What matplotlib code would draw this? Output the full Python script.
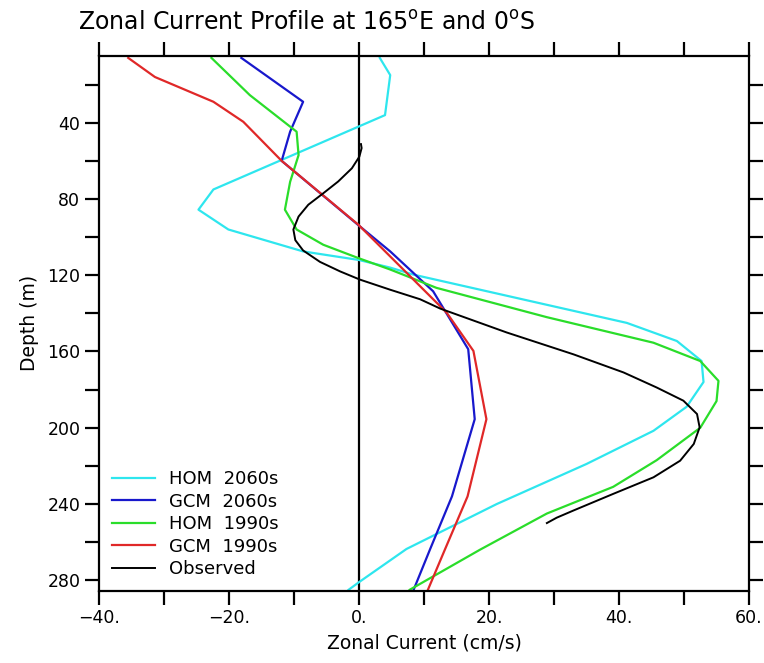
import numpy as np
import matplotlib
matplotlib.use("Agg")
import matplotlib.pyplot as plt
from matplotlib.ticker import MultipleLocator, FuncFormatter

plt.rcParams['font.family'] = ['DejaVu Sans']

# HOM 2060s (cyan)
hom60_u = [3.2, 4.8, 4.0, -22.4, -24.7, -20.1, -8.6, 0.0, 4.8, 8.4, 41.2, 48.9,
           52.7, 53.0, 50.4, 45.3, 35.0, 21.2, 7.3, 0.0, -1.6]
hom60_d = [6, 15, 36, 75, 85.6, 96, 107.5, 112, 116, 119.7, 145, 154.5,
           165, 176, 189, 201.6, 219, 240, 263.6, 281, 285]

# GCM 2060s (blue)
gcm60_u = [-18.1, -8.6, -10.6, -11.9, 0.0, 4.8, 11.4, 16.8, 17.8, 14.3, 10.9, 8.4]
gcm60_d = [6, 29, 44.7, 60, 94, 107.5, 128.4, 158.8, 195.5, 236, 264, 285]

# HOM 1990s (green)
hom90_u = [-22.7, -16.8, -9.6, -9.3, -10.6, -11.4, -9.6, -5.5, -0.1, 4.8, 11.9, 28.9,
           45.3, 52.5, 55.3, 55.0, 52.5, 45.8, 39.1, 28.9, 18.6, 7.8]
hom90_d = [6, 25.5, 44.7, 57, 71, 85.6, 96, 104, 111, 117, 126.6, 142,
           155.4, 165, 175.4, 186, 200, 217, 231, 245, 264, 285]

# GCM 1990s (red)
gcm90_u = [-35.5, -31.4, -22.4, -17.8, -11.9, -0.1, 13.5, 17.6, 19.6, 16.7, 13.2, 10.6]
gcm90_d = [6, 16, 29, 39.5, 60, 93.5, 139.7, 159.7, 195.5, 236, 264, 285]

# Observed (black)
obs_u = [0.3, 0.4, 0.05, -1.1, -3.2, -5.5, -7.8, -9.3, -10.1, -9.8, -8.6, -6.0,
         -2.9, 0.15, 4.8, 9.4, 12.5, 22.7, 33.0, 40.7, 45.8, 49.9, 52.0, 52.4,
         51.5, 49.4, 45.3, 39.1, 33.0, 30.4, 28.9]
obs_d = [51.2, 53.3, 57.8, 63.9, 70.8, 77, 83, 89.2, 96, 101.6, 107, 113,
         118, 122.3, 127.6, 132.6, 137.5, 150, 161.5, 171, 178.9, 185.8, 192.8, 199.8,
         208.5, 217.3, 226, 234.7, 243.4, 247.2, 250]

fig = plt.figure(figsize=(7.64, 6.63), dpi=100)
ax = fig.add_axes([0.1296, 0.109, 0.8508, 0.8065])

ax.axvline(0, color='black', lw=1.6, zorder=1)
ax.plot(hom60_u, hom60_d, color='#2ee6ee', lw=1.6, label='HOM  2060s')
ax.plot(gcm60_u, gcm60_d, color='#1818cc', lw=1.6, label='GCM  2060s')
ax.plot(hom90_u, hom90_d, color='#2add2a', lw=1.6, label='HOM  1990s')
ax.plot(gcm90_u, gcm90_d, color='#e02828', lw=1.6, label='GCM  1990s')
ax.plot(obs_u, obs_d, color='black', lw=1.4, label='Observed')

ax.set_xlim(-40, 60)
ax.set_ylim(285.5, 5)

ax.xaxis.set_major_locator(MultipleLocator(20))
ax.xaxis.set_minor_locator(MultipleLocator(10))
ax.yaxis.set_major_locator(MultipleLocator(40))
ax.yaxis.set_minor_locator(MultipleLocator(20))
ax.xaxis.set_major_formatter(FuncFormatter(lambda v, p: ('%d.' % v).replace('-', '\u2212')))

ax.tick_params(which='both', direction='out', length=10, width=1.6,
               top=True, right=True, labelsize=12.5)
for s in ax.spines.values():
    s.set_linewidth(1.6)

ax.set_xlabel('Zonal Current (cm/s)', fontsize=13.5, labelpad=4)
ax.set_ylabel('Depth (m)', fontsize=13.5, labelpad=6)
fig.text(0.102, 0.955, 'Zonal Current Profile at 165$^\\mathrm{o}$E and 0$^\\mathrm{o}$S',
         fontsize=17)

ax.legend(loc='lower left', frameon=False, fontsize=13, handlelength=2.4,
          labelspacing=0.25, borderaxespad=0.3, bbox_to_anchor=(0.0, 0.0))

fig.savefig('out.png', dpi=100)
